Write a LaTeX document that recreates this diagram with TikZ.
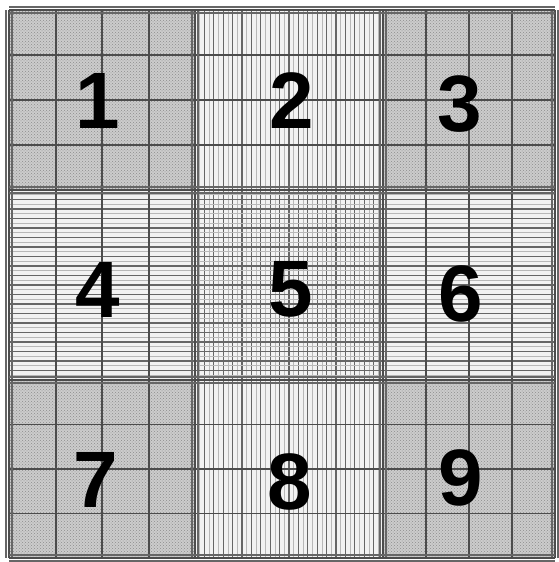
\documentclass[tikz,border=0pt]{standalone}
\usepackage{fontspec}
\setsansfont{Liberation Sans}
\usetikzlibrary{patterns}
\tikzset{
  major/.style={draw=black!70,line width=1.2pt},
  fine/.style={draw=black!60,line width=1.1pt},
  faint/.style={draw=black!28,line width=0.8pt},
  digit/.style={font=\sffamily\bfseries\fontsize{80}{80}\selectfont,text=black,inner sep=0pt}
}
\begin{document}
\begin{tikzpicture}[x=1pt,y=-1pt]
  \useasboundingbox (0,0) rectangle (558,562);
  \fill[white] (0,0) rectangle (558,562);
  % strips and centre
  \fill[black!5] (195,10) rectangle (383,558);
  \fill[black!5] (9,190) rectangle (555,380);
  % corner squares, dotted
  \foreach \xa/\xb in {9/195,383/555} \foreach \ya/\yb in {10/190,380/558} {
    \fill[black!20] (\xa,\ya) rectangle (\xb,\yb);
    \fill[pattern=crosshatch dots,pattern color=black!45] (\xa,\ya) rectangle (\xb,\yb);
  }
  % dense lines in the middle column
  \foreach \i in {1,...,39} \draw[faint] ({195+\i*4.7},10) -- ({195+\i*4.7},558);
  \foreach \i in {1,...,19} \draw[fine] ({195+\i*9.4},10) -- ({195+\i*9.4},558);
  % dense lines in the middle row
  \foreach \i in {1,...,39} \draw[faint] (9,{190+\i*4.75}) -- (555,{190+\i*4.75});
  \foreach \i in {1,...,19} \draw[fine] (9,{190+\i*9.5}) -- (555,{190+\i*9.5});
  % grid of the corner squares
  \foreach \x in {56,102,149,426,469,512} \draw[major] (\x,10) -- (\x,558);
  \foreach \y in {55,100,145,424.5,469,513.5} \draw[major] (9,\y) -- (555,\y);
  % triple boundary lines
  \foreach \x in {9,195,383,555} {
    \draw[major] (\x,10) -- (\x,558);
    \draw[fine] ({\x-3},10) -- ({\x-3},558);
    \draw[fine] ({\x+3},10) -- ({\x+3},558);
  }
  \foreach \y in {10,190,380,558} {
    \draw[major] (9,\y) -- (555,\y);
    \draw[fine] (9,{\y-3}) -- (555,{\y-3});
    \draw[fine] (9,{\y+3}) -- (555,{\y+3});
  }
  \fill[white] (0,0) rectangle (558,6);
  \fill[white] (0,0) rectangle (5,562);
  % numbers
  \foreach \d/\x/\y in {1/98/101,2/292/101,3/460/104,4/98/290,5/291/289,6/461/294,7/96/480,8/290/482,9/461/478}
    \node[digit] (n\d) at (\x,\y) {\d};
\end{tikzpicture}
\end{document}
